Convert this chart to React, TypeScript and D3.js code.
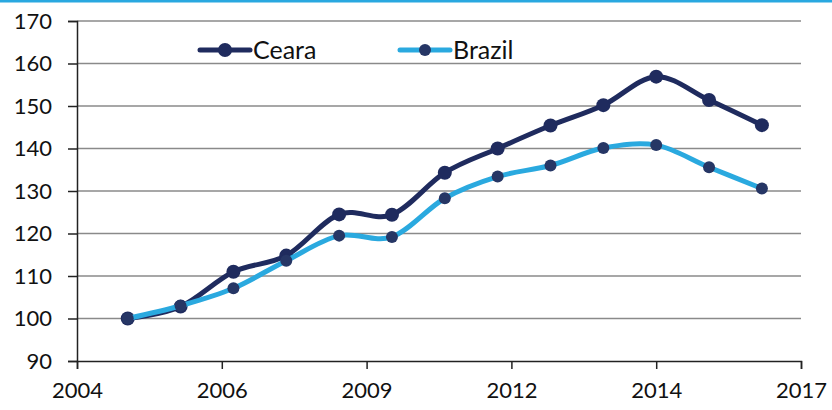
import React, { useEffect, useRef } from 'react';
import * as d3 from 'd3';

// tick labels on the category axis and where they fall (in period units)
const tickLabels = ['2004', '2006', '2009', '2012', '2014', '2017'];
const tickPeriods = [0.04, 2.78, 5.52, 8.26, 11.0, 13.74];

const periods = [1, 2, 3, 4, 5, 6, 7, 8, 9, 10, 11, 12, 13];
const ceara = [100, 102.8, 111.0, 114.8, 124.5, 124.4, 134.3, 140.0, 145.4, 150.2, 156.9, 151.4, 145.5];
const brazil = [100, 103.0, 107.1, 113.6, 119.5, 119.2, 128.3, 133.4, 136.0, 140.1, 140.8, 135.6, 130.6];
const yTicks = [90, 100, 110, 120, 130, 140, 150, 160, 170];

const series = [
  { name: 'Ceara', values: ceara, color: '#1f2b5e', marker: '#1f2b5e', r: 7 },
  { name: 'Brazil', values: brazil, color: '#2aa9df', marker: '#263665', r: 6 },
];

const App = () => {
  const svgRef = useRef<SVGSVGElement>(null);
  const width = 832;
  const height = 410;
  const margin = { top: 21, right: 31, bottom: 49, left: 77 };

  useEffect(() => {
    const svg = d3.select(svgRef.current);
    svg.selectAll('*').remove();
    const font = 'Lato, "Open Sans", sans-serif';

    const x = d3
      .scaleLinear()
      .domain([tickPeriods[0], tickPeriods[tickPeriods.length - 1]])
      .range([margin.left, width - margin.right]);

    const y = d3
      .scaleLinear()
      .domain([90, 170])
      .range([height - margin.bottom, margin.top]);

    // top accent bar
    svg.append('rect')
      .attr('x', 0).attr('y', 0)
      .attr('width', width).attr('height', 2.5)
      .attr('fill', '#29a8e0');

    // gridlines
    svg.append('g')
      .selectAll('line')
      .data(yTicks.filter(t => t > 90))
      .join('line')
      .attr('x1', margin.left)
      .attr('x2', width - margin.right)
      .attr('y1', d => y(d))
      .attr('y2', d => y(d))
      .attr('stroke', '#8a8a8a')
      .attr('stroke-width', 1.5);

    // y axis
    const yAxis = svg.append('g')
      .attr('transform', `translate(${margin.left},0)`)
      .call(d3.axisLeft(y).tickValues(yTicks).tickSize(9).tickPadding(16).tickFormat(d3.format('d')));
    yAxis.select('.domain').attr('stroke', '#222').attr('stroke-width', 1.5);
    yAxis.selectAll('.tick line').attr('stroke', '#222').attr('stroke-width', 1.5);
    yAxis.selectAll('.tick text')
      .attr('fill', '#111')
      .style('font-family', font)
      .style('font-size', '22px');

    // x axis
    const xAxis = svg.append('g')
      .attr('transform', `translate(0,${height - margin.bottom})`)
      .call(
        d3.axisBottom(x)
          .tickValues(tickPeriods)
          .tickSize(8)
          .tickPadding(13)
          .tickFormat((_, i) => tickLabels[i])
      );
    xAxis.select('.domain').attr('stroke', '#222').attr('stroke-width', 1.5);
    xAxis.selectAll('.tick line').attr('stroke', '#222').attr('stroke-width', 1.5);
    xAxis.selectAll('.tick text')
      .attr('fill', '#111')
      .style('font-family', font)
      .style('font-size', '22px');

    const line = d3
      .line<number>()
      .x((_, i) => x(periods[i]))
      .y(d => y(d))
      .curve(d3.curveCardinal.tension(0));

    series.forEach(s => {
      svg.append('path')
        .datum(s.values)
        .attr('fill', 'none')
        .attr('stroke', s.color)
        .attr('stroke-width', 5)
        .attr('stroke-linejoin', 'round')
        .attr('d', line);

      svg.append('g')
        .selectAll('circle')
        .data(s.values)
        .join('circle')
        .attr('cx', (_, i) => x(periods[i]))
        .attr('cy', d => y(d))
        .attr('r', s.r)
        .attr('fill', s.marker);
    });

    // legend
    const legend = svg.append('g').attr('transform', 'translate(200,50)');
    series.forEach((s, i) => {
      const g = legend.append('g').attr('transform', `translate(${i * 200},0)`);
      g.append('line')
        .attr('x1', 0).attr('x2', 50)
        .attr('y1', 0).attr('y2', 0)
        .attr('stroke', s.color)
        .attr('stroke-width', 5)
        .attr('stroke-linecap', 'round');
      g.append('circle')
        .attr('cx', 25).attr('cy', 0)
        .attr('r', s.r)
        .attr('fill', s.marker);
      g.append('text')
        .attr('x', 53)
        .attr('y', 9)
        .attr('fill', '#111')
        .style('font-family', font)
        .style('font-size', '25px')
        .text(s.name);
    });
  }, []);

  return (
    <svg
      ref={svgRef}
      width={width}
      height={height}
      style={{ position: 'absolute', left: 0, top: 0, background: '#fff' }}
    />
  );
};

export default App;
